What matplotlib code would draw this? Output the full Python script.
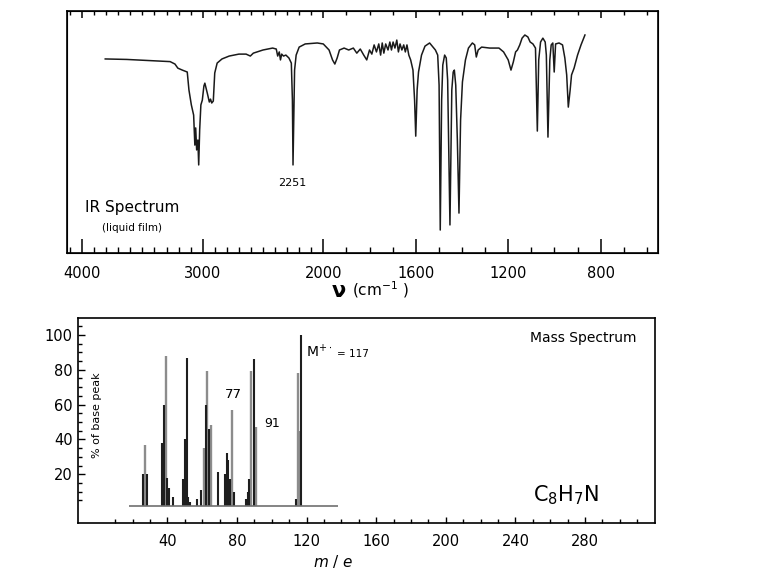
import numpy as np
import matplotlib
matplotlib.use('Agg')
import matplotlib.pyplot as plt
from matplotlib.ticker import FixedLocator

# IR spectrum (liquid film): wavenumber (cm-1) and % transmittance
ir_wavenumber = [3808, 3630, 3430, 3270, 3230, 3206, 3169, 3128, 3114, 3094,
                 3075, 3065, 3058, 3050, 3040, 3033, 3025, 3015, 3003, 2990,
                 2982, 2972, 2960, 2945, 2935, 2925, 2912, 2900, 2880, 2840,
                 2780, 2700, 2640, 2605, 2580, 2500, 2420, 2390, 2378, 2365,
                 2355, 2345, 2330, 2310, 2285, 2265, 2256, 2251, 2244, 2238,
                 2225, 2200, 2150, 2050, 2000, 1975, 1960, 1950, 1940, 1930,
                 1910, 1890, 1870, 1855, 1840, 1825, 1812, 1800, 1790, 1780,
                 1770, 1760, 1752, 1745, 1738, 1730, 1720, 1712, 1705, 1698,
                 1690, 1682, 1675, 1668, 1660, 1652, 1645, 1638, 1630, 1622,
                 1612, 1605, 1600, 1594, 1588, 1575, 1560, 1540, 1525, 1515,
                 1505, 1499, 1494, 1488, 1483, 1475, 1468, 1462, 1452, 1444,
                 1438, 1433, 1427, 1420, 1413, 1406, 1398, 1385, 1372, 1355,
                 1345, 1338, 1330, 1315, 1280, 1240, 1220, 1200, 1188, 1178,
                 1168, 1160, 1150, 1140, 1128, 1115, 1105, 1093, 1082, 1074,
                 1068, 1060, 1050, 1040, 1035, 1028, 1020, 1014, 1007, 1001,
                 995, 980, 965, 955, 947, 940, 932, 926, 915, 900,
                 885, 868]
ir_transmittance = [80.2, 80.0, 79.5, 79.1, 78.1, 76.4, 75.6, 74.8, 67.4, 61.2,
                    57.0, 44.6, 51.7, 42.6, 46.7, 36.4, 50.8, 61.2, 63.2, 69.0,
                    70.2, 68.2, 65.7, 62.4, 63.6, 62.0, 62.8, 74.4, 78.5, 80.2,
                    81.4, 82.2, 82.2, 81.4, 82.6, 83.9, 84.7, 84.3, 81.4, 83.1,
                    79.8, 82.2, 81.4, 81.8, 80.6, 78.5, 63.2, 36.4, 59.1, 75.6,
                    81.8, 85.1, 86.4, 86.8, 86.4, 83.9, 79.8, 78.1, 80.6, 83.9,
                    84.7, 83.9, 84.7, 82.6, 84.3, 81.8, 79.8, 83.9, 82.2, 86.0,
                    83.1, 86.4, 81.8, 86.8, 82.6, 86.4, 83.9, 87.2, 83.9, 87.2,
                    84.7, 88.0, 83.1, 86.4, 83.9, 86.0, 83.1, 86.0, 81.8, 79.8,
                    75.6, 63.2, 48.3, 67.4, 74.8, 81.8, 85.5, 86.8, 85.1, 83.9,
                    81.8, 69.4, 9.5, 63.2, 77.7, 81.8, 80.6, 71.5, 11.6, 67.4,
                    74.8, 75.6, 69.4, 46.7, 16.5, 55.0, 70.7, 79.8, 84.7, 86.8,
                    86.0, 81.0, 83.9, 85.1, 84.7, 84.7, 83.1, 79.8, 75.6, 78.9,
                    83.1, 83.9, 86.0, 88.8, 90.1, 89.3, 87.2, 86.4, 84.7, 50.4,
                    79.8, 87.2, 88.8, 87.2, 81.8, 47.9, 79.8, 86.0, 86.8, 74.8,
                    86.4, 86.8, 86.0, 80.6, 73.6, 60.3, 67.4, 73.6, 76.4, 81.8,
                    86.0, 90.1]
ir_major_ticks = [4000, 3000, 2000, 1600, 1200, 800]

# mass spectrum: m/e and % of base peak, split by how dark each line printed
ms_dark_mz = [26, 28, 37, 38, 40, 41, 43, 49, 50, 51, 52, 53, 57, 59, 62, 64,
              69, 73, 74, 75, 76, 78, 85, 86, 87, 90, 114, 117]
ms_dark_int = [20, 20, 38, 60, 18, 12, 7, 17, 40, 87, 7, 4, 6, 11, 60, 46,
               21, 20, 32, 28, 17, 10, 6, 10, 17, 86, 6, 100]
ms_grey_mz = [27, 39, 61, 63, 65, 77, 88, 91, 115, 116]
ms_grey_int = [37, 88, 35, 79, 48, 57, 79, 47, 78, 45]
ms_x_ticks = [40, 80, 120, 160, 200, 240, 280]
ms_y_ticks = [20, 40, 60, 80, 100]

# below 2000 cm-1 the chart paper is stretched (about 1.9x)
STRETCH = 1.9167


def ir_fwd(v):
    v = np.asarray(v, dtype=float)
    return np.where(v >= 2000, v, 2000 - (2000 - v) * STRETCH)


def ir_inv(w):
    w = np.asarray(w, dtype=float)
    return np.where(w >= 2000, w, 2000 - (2000 - w) / STRETCH)


fig = plt.figure(figsize=(7.81, 5.81), dpi=100)

# ---- IR spectrum ----
ax_ir = fig.add_axes([0.0858, 0.5645, 0.7567, 0.4165])
ax_ir.set_xscale('function', functions=(ir_fwd, ir_inv))
ax_ir.plot(ir_wavenumber, ir_transmittance, color='#1a1a1a', lw=1.1)
ax_ir.set_xlim(4125, 552)
ax_ir.set_ylim(0, 100)
ax_ir.set_yticks([])
ax_ir.set_xticks(ir_major_ticks)
ax_ir.set_xticklabels([str(t) for t in ir_major_ticks])
ax_ir.xaxis.set_minor_locator(FixedLocator(np.arange(600, 4200, 100)))
ax_ir.tick_params(axis='x', which='major', direction='in', length=10,
                  width=1.1, pad=9, labelsize=10.5)
ax_ir.tick_params(axis='x', which='minor', direction='in', length=4, width=1.0)
for s in ax_ir.spines.values():
    s.set_linewidth(1.2)

ax_top = ax_ir.twiny()
ax_top.set_xscale('function', functions=(ir_fwd, ir_inv))
ax_top.set_xlim(ax_ir.get_xlim())
ax_top.set_xticks(ir_major_ticks)
ax_top.set_xticklabels([])
ax_top.xaxis.set_minor_locator(FixedLocator(np.arange(600, 4200, 100)))
ax_top.tick_params(axis='x', which='major', direction='in', length=5, width=1.1)
ax_top.tick_params(axis='x', which='minor', direction='in', length=3, width=1.0)

ax_ir.text(2258, 28.9, '2251', ha='center', va='center', fontsize=8)
ax_ir.text(0.030, 0.19, 'IR Spectrum', transform=ax_ir.transAxes,
           ha='left', va='center', fontsize=11)
ax_ir.text(0.059, 0.103, '(liquid film)', transform=ax_ir.transAxes,
           ha='left', va='center', fontsize=7.5)
ax_ir.text(0.46, -0.155, r'$\mathbf{\nu}$', transform=ax_ir.transAxes,
           ha='center', va='center', fontsize=15)
ax_ir.text(0.482, -0.15, r'(cm$^{-1}$ )', transform=ax_ir.transAxes,
           ha='left', va='center', fontsize=11)

# ---- mass spectrum ----
BASE = 2
ax_ms = fig.add_axes([0.0999, 0.0998, 0.7388, 0.3529])
ax_ms.vlines(ms_grey_mz, BASE, ms_grey_int, color='#8c8c8c', lw=1.7)
ax_ms.vlines(ms_dark_mz, BASE, ms_dark_int, color='#1e1e1e', lw=1.5)
ax_ms.hlines(BASE, 18, 138, color='#707070', lw=1.2)
ax_ms.set_xlim(-11.4, 320.2)
ax_ms.set_ylim(-8, 109.7)
ax_ms.set_xticks(ms_x_ticks)
ax_ms.set_yticks(ms_y_ticks)
ax_ms.xaxis.set_minor_locator(FixedLocator(np.arange(10, 320, 10)))
ax_ms.yaxis.set_minor_locator(FixedLocator(np.arange(5, 110, 5)))
ax_ms.tick_params(axis='x', which='major', direction='in', length=4.5,
                  width=1.0, pad=8, labelsize=10.5)
ax_ms.tick_params(axis='x', which='minor', direction='in', length=3, width=1.0)
ax_ms.tick_params(axis='y', which='major', direction='in', length=5,
                  width=1.0, pad=4, labelsize=10.5)
ax_ms.tick_params(axis='y', which='minor', direction='in', length=3, width=1.0)
for s in ax_ms.spines.values():
    s.set_linewidth(1.2)

ax_ms.text(0.033, 0.527, '% of base peak', transform=ax_ms.transAxes,
           rotation=90, ha='center', va='center', fontsize=8)
ax_ms.text(309.8, 98.3, 'Mass Spectrum', ha='right', va='center', fontsize=10)
ax_ms.text(119.6, 90.2, r'M$^{+\cdot}$', ha='left', va='center', fontsize=10)
ax_ms.text(137.5, 89.0, '= 117', ha='left', va='center', fontsize=7.5)
ax_ms.text(77.9, 65.5, '77', ha='center', va='center', fontsize=9.5)
ax_ms.text(100.3, 48.9, '91', ha='center', va='center', fontsize=9)
ax_ms.text(269, 4.6, r'C$_8$H$_7$N', ha='center', va='baseline', fontsize=15)
ax_ms.text(0.442, -0.19, r'$m$ / $e$', transform=ax_ms.transAxes,
           ha='center', va='center', fontsize=11)

fig.savefig('out.png', dpi=100)
